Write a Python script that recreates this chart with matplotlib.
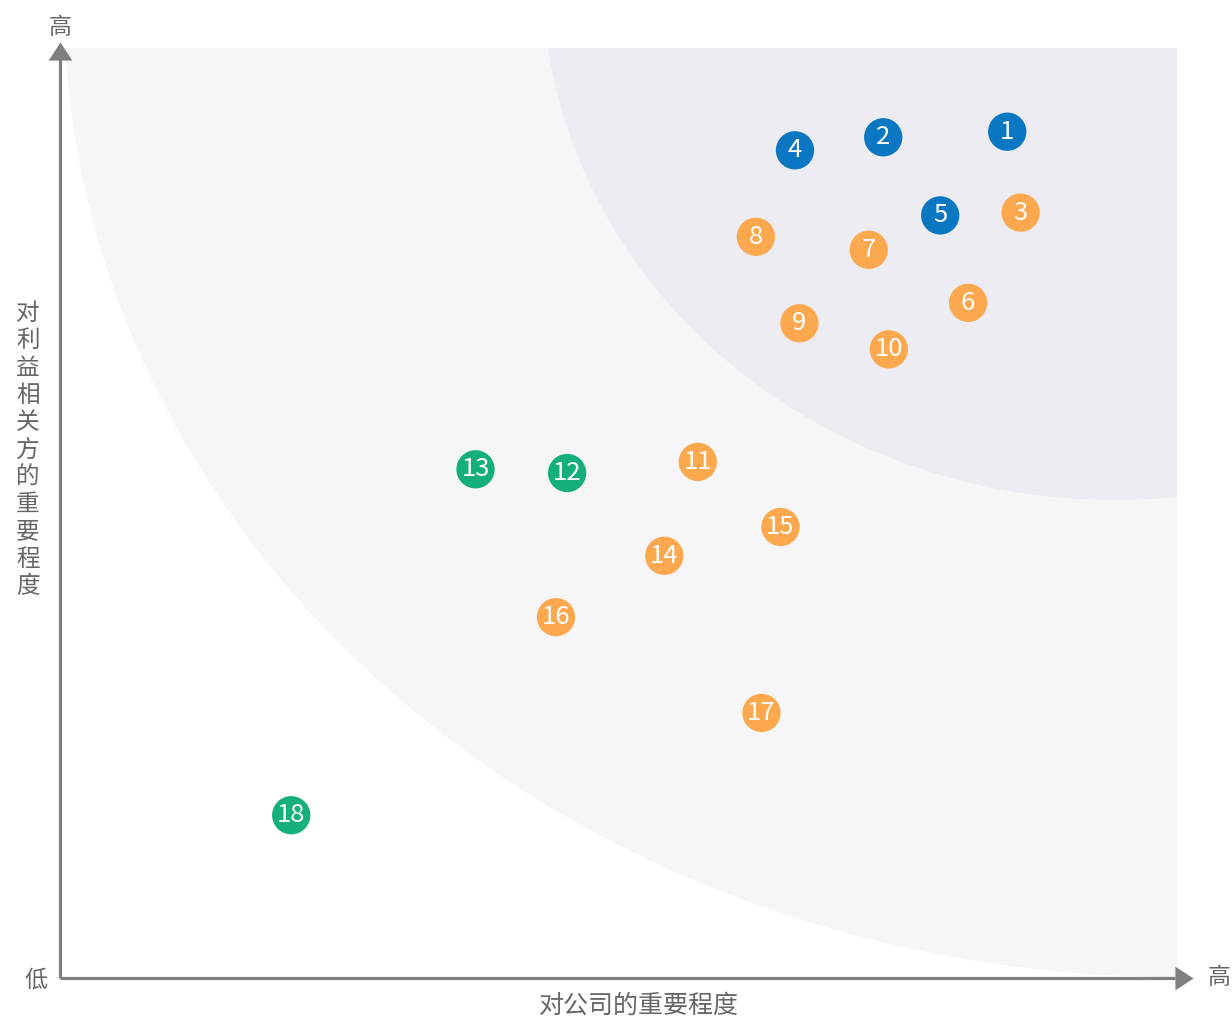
import matplotlib
matplotlib.use("Agg")
import matplotlib.pyplot as plt
from matplotlib.patches import Ellipse
from matplotlib.path import Path

plt.rcParams['font.family'] = ['Noto Sans CJK SC', 'DejaVu Sans']

# ---- data ----
labels = [str(i) for i in range(1, 19)]
company_importance = [84.8, 73.7, 86.0, 65.8, 78.8, 81.3, 72.4, 62.3, 66.2, 74.2,
                      57.1, 45.4, 37.2, 54.1, 64.5, 44.4, 62.8, 20.7]
stakeholder_importance = [91.0, 90.4, 82.3, 89.0, 82.0, 72.6, 78.3, 79.7, 70.4, 67.6,
                          55.5, 54.3, 54.7, 45.4, 48.5, 38.8, 28.5, 17.5]
groups = ['blue', 'blue', 'orange', 'blue', 'blue', 'orange', 'orange', 'orange', 'orange', 'orange',
          'orange', 'green', 'green', 'orange', 'orange', 'orange', 'orange', 'green']
group_colors = {'blue': '#0a77c2', 'orange': '#fca84e', 'green': '#14af7b'}

x_label = '对公司的重要程度'
y_label = '对利益相关方的重要程度'
low_text = '低'
high_text = '高'

# ---- figure ----
W, H = 1232, 1018
fig = plt.figure(figsize=(W / 100, H / 100), dpi=100)
ax_l, ax_r, ax_t, ax_b = 60, 1177, 48, 978
ax = fig.add_axes([ax_l / W, 1 - ax_b / H, (ax_r - ax_l) / W, (ax_b - ax_t) / H])
ax.set_xlim(0, 100)
ax.set_ylim(0, 100)
ax.set_facecolor('white')
for s in ax.spines.values():
    s.set_visible(False)
ax.set_xticks([])
ax.set_yticks([])

sx = (ax_r - ax_l) / 100.0
sy = (ax_b - ax_t) / 100.0

def px2d(px, py):
    return (px - ax_l) / sx, (ax_b - py) / sy

# background zones (quarter ellipses from the top-right)
c_out = px2d(1177, 0)
outer = Ellipse(c_out, 2 * 1113 / sx, 2 * 977 / sy, facecolor='#f6f6f9', edgecolor='none', zorder=0)
ax.add_patch(outer)
c_in = px2d(1115, -25)
inner = Ellipse(c_in, 2 * 572.5 / sx, 2 * 525 / sy, facecolor='#ececf2', edgecolor='none', zorder=1)
ax.add_patch(inner)

# points
cols = [group_colors[g] for g in groups]
ax.scatter(company_importance, stakeholder_importance, s=760, c=cols, edgecolors='none', zorder=3)
for lab, x, y in zip(labels, company_importance, stakeholder_importance):
    ax.text(x, y, lab, color='white', fontsize=18.5, ha='center', va='center', zorder=4)

# axes arrows
axis_col = '#7f7f7f'
tri_up = Path([(-1.3, -1), (1.3, -1), (0, 1), (-1.3, -1)],
              [Path.MOVETO, Path.LINETO, Path.LINETO, Path.CLOSEPOLY])
tri_right = Path([(-1, -1.3), (-1, 1.3), (1, 0), (-1, -1.3)],
                 [Path.MOVETO, Path.LINETO, Path.LINETO, Path.CLOSEPOLY])
ax.plot([0, 0], [0, (ax_b - 58) / (ax_b - ax_t)], transform=ax.transAxes, color=axis_col,
        lw=2.3, clip_on=False, zorder=5, solid_capstyle='butt')
ax.plot([0, (1175 - ax_l) / (ax_r - ax_l)], [0, 0], transform=ax.transAxes, color=axis_col,
        lw=2.3, clip_on=False, zorder=5, solid_capstyle='butt')
ax.plot([0], [(ax_b - 51) / (ax_b - ax_t)], transform=ax.transAxes, marker=tri_up, ms=17,
        color=axis_col, clip_on=False, zorder=5, mew=0)
ax.plot([(1184 - ax_l) / (ax_r - ax_l)], [0], transform=ax.transAxes, marker=tri_right, ms=17,
        color=axis_col, clip_on=False, zorder=5, mew=0)

txt_col = '#666666'
fig.text(60 / W, 1 - 27 / H, high_text, fontsize=16.5, color=txt_col, ha='center', va='center')
fig.text(1219 / W, 1 - 978 / H, high_text, fontsize=16.5, color=txt_col, ha='center', va='center')
fig.text(36 / W, 1 - 980 / H, low_text, fontsize=16.5, color=txt_col, ha='center', va='center')
fig.text(639 / W, 1 - 1006 / H, x_label, fontsize=18, color=txt_col, ha='center', va='center')
fig.text(28 / W, 1 - 450 / H, '\n'.join(y_label), fontsize=17, color=txt_col, ha='center',
         va='center', linespacing=1.24)

fig.savefig('out.png', dpi=100, facecolor='white')
